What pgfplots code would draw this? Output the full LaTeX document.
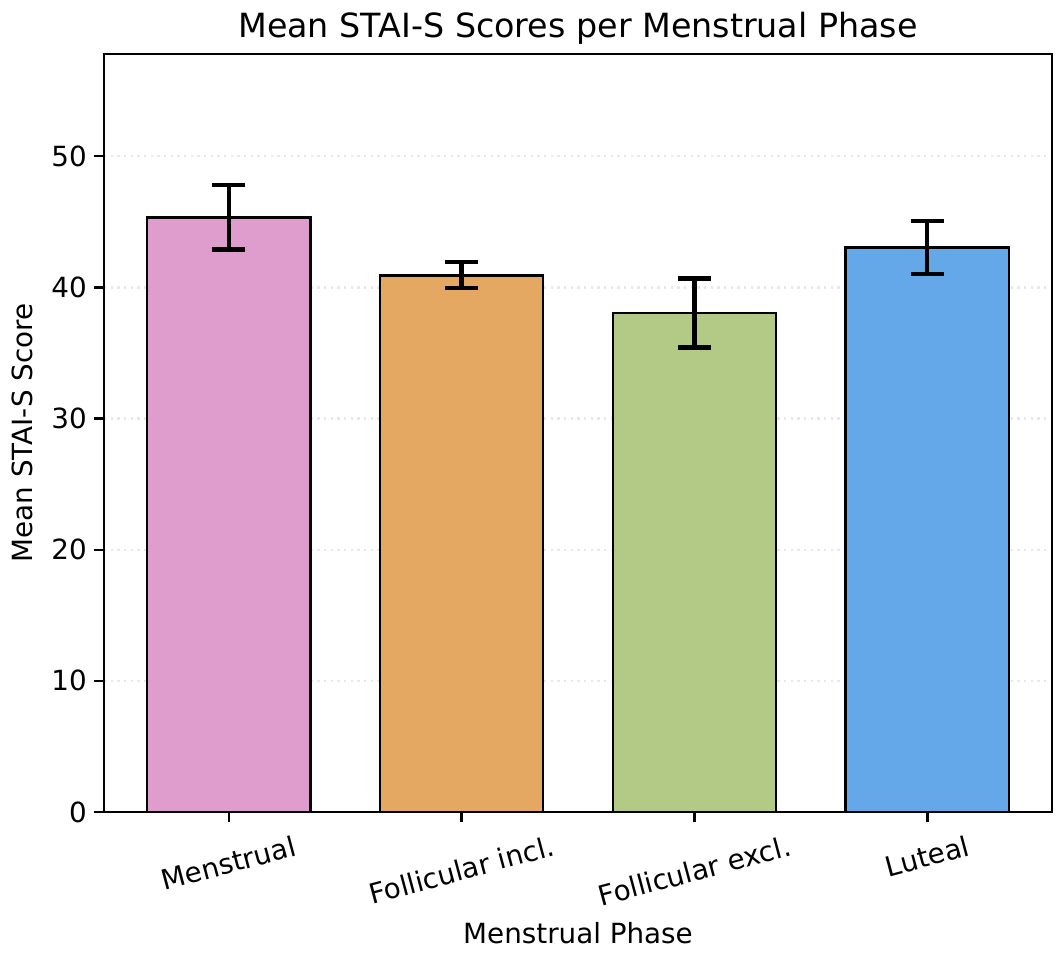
\documentclass[border=0pt]{standalone}
\usepackage{fontspec}
\setmainfont{DejaVu Sans}
\usepackage{graphicx}
\usepackage{pgfplots}
\pgfplotsset{compat=1.18}

\definecolor{cMen}{RGB}{223,157,206}
\definecolor{cFin}{RGB}{228,168,98}
\definecolor{cFex}{RGB}{179,201,134}
\definecolor{cLut}{RGB}{100,168,234}

\begin{document}
\begin{tikzpicture}
\begin{axis}[
    scale only axis,
    width=341.3pt, height=272.9pt,
    xmin=-0.535, xmax=3.535,
    ymin=0, ymax=57.8,
    ytick={0,10,20,30,40,50},
    xtick={0,1,2,3},
    xticklabels={\rotatebox{15}{Menstrual},\rotatebox{15}{Follicular incl.},\rotatebox{15}{Follicular excl.},\rotatebox{15}{Luteal}},
    xtick pos=bottom, ytick pos=left,
    tick align=outside,
    major tick length=3.5pt,
    every tick/.style={black, line width=0.8pt},
    axis line style={line width=0.8pt},
    font=\fontsize{10pt}{12pt}\selectfont,
    /pgf/number format/assume math mode=true,
    xticklabel style={anchor=north, inner sep=0pt, yshift=-4.5pt},
    yticklabel style={anchor=east, inner sep=0pt, xshift=-2.5pt},
    ymajorgrids=true,
    grid style={line width=0.8pt, gray!18, dash pattern=on 0.8pt off 1.6pt},
    title={Mean STAI-S Scores per Menstrual Phase},
    title style={font=\fontsize{12pt}{14pt}\selectfont, at={(rel axis cs:0.5,1)}, anchor=base, yshift=0pt, inner sep=0pt},
    xlabel={Menstrual Phase},
    xlabel style={at={([yshift=-47.5pt]rel axis cs:0.5,0)}, anchor=base, inner sep=0pt},
    ylabel={Mean STAI-S Score},
    ylabel style={at={([xshift=-25.9pt]rel axis cs:0,0.5)}, anchor=base, inner sep=0pt},
    ybar, bar width=0.7, bar shift=0pt,
    error bars/y dir=both, error bars/y explicit,
    error bars/error bar style={line width=1.5pt, black},
    error bars/error mark options={line width=1.5pt, mark size=6pt, black, rotate=90},
]
\addplot[fill=cMen, draw=black, line width=1pt] coordinates {(0,45.34) +- (0,2.45)};
\addplot[fill=cFin, draw=black, line width=1pt] coordinates {(1,40.93) +- (0,0.99)};
\addplot[fill=cFex, draw=black, line width=1pt] coordinates {(2,38.05) +- (0,2.63)};
\addplot[fill=cLut, draw=black, line width=1pt] coordinates {(3,43.04) +- (0,2.02)};
\coordinate (sw) at (rel axis cs:0,0);
\coordinate (ne) at (rel axis cs:1,1);
\end{axis}
\pgfresetboundingbox
\path[use as bounding box] ([shift={(-37.44pt,-51.84pt)}]sw) rectangle ([shift={(3.96pt,19.44pt)}]ne);
\end{tikzpicture}
\end{document}
